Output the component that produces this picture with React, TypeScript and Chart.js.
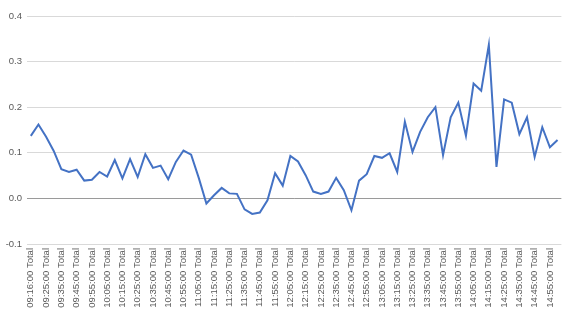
import React, { useEffect, useRef } from "react";
import { Chart, registerables } from "chart.js";

Chart.register(...registerables);

const categories: string[] = [
  "09:16:00 Total", "09:20:00 Total", "09:25:00 Total", "09:30:00 Total", "09:35:00 Total",
  "09:40:00 Total", "09:45:00 Total", "09:50:00 Total", "09:55:00 Total", "10:00:00 Total",
  "10:05:00 Total", "10:10:00 Total", "10:15:00 Total", "10:20:00 Total", "10:25:00 Total",
  "10:30:00 Total", "10:35:00 Total", "10:40:00 Total", "10:45:00 Total", "10:50:00 Total",
  "10:55:00 Total", "11:00:00 Total", "11:05:00 Total", "11:10:00 Total", "11:15:00 Total",
  "11:20:00 Total", "11:25:00 Total", "11:30:00 Total", "11:35:00 Total", "11:40:00 Total",
  "11:45:00 Total", "11:50:00 Total", "11:55:00 Total", "12:00:00 Total", "12:05:00 Total",
  "12:10:00 Total", "12:15:00 Total", "12:20:00 Total", "12:25:00 Total", "12:30:00 Total",
  "12:35:00 Total", "12:40:00 Total", "12:45:00 Total", "12:50:00 Total", "12:55:00 Total",
  "13:00:00 Total", "13:05:00 Total", "13:10:00 Total", "13:15:00 Total", "13:20:00 Total",
  "13:25:00 Total", "13:30:00 Total", "13:35:00 Total", "13:40:00 Total", "13:45:00 Total",
  "13:50:00 Total", "13:55:00 Total", "14:00:00 Total", "14:05:00 Total", "14:10:00 Total",
  "14:15:00 Total", "14:20:00 Total", "14:25:00 Total", "14:30:00 Total", "14:35:00 Total",
  "14:40:00 Total", "14:45:00 Total", "14:50:00 Total", "14:55:00 Total", "15:00:00 Total",
];

const values: number[] = [
  0.137, 0.162, 0.135, 0.104, 0.064, 0.058, 0.063, 0.039, 0.041, 0.058,
  0.048, 0.084, 0.044, 0.086, 0.047, 0.097, 0.067, 0.072, 0.042, 0.080,
  0.105, 0.096, 0.045, -0.011, 0.007, 0.023, 0.011, 0.010, -0.024, -0.034,
  -0.031, -0.004, 0.055, 0.028, 0.093, 0.081, 0.051, 0.015, 0.010, 0.015,
  0.045, 0.018, -0.026, 0.039, 0.053, 0.093, 0.089, 0.099, 0.058, 0.168,
  0.102, 0.146, 0.178, 0.200, 0.095, 0.178, 0.210, 0.137, 0.252, 0.236,
  0.337, 0.069, 0.217, 0.210, 0.141, 0.178, 0.091, 0.156, 0.112, 0.128,
];

const yMin = -0.1;
const yMax = 0.4;
const yStep = 0.1;

export default function App() {
  const canvasRef = useRef<HTMLCanvasElement | null>(null);

  useEffect(() => {
    document.body.style.margin = "0";
    const canvas = canvasRef.current;
    if (!canvas) return;
    const font = { family: "'Liberation Sans', Arial, sans-serif", size: 9.5 };
    const chart = new Chart(canvas, {
      type: "line",
      data: {
        labels: categories,
        datasets: [
          {
            data: values,
            borderColor: "#4472C4",
            borderWidth: 2,
            pointRadius: 0,
            tension: 0,
            fill: false,
          },
        ],
      },
      options: {
        animation: false,
        responsive: false,
        layout: { padding: { top: 16, right: 8, left: 0, bottom: 0 } },
        plugins: { legend: { display: false }, tooltip: { enabled: false } },
        scales: {
          x: {
            type: "category",
            offset: true,
            grid: { display: false, drawTicks: false },
            border: { display: false },
            ticks: {
              autoSkip: false,
              minRotation: 90,
              maxRotation: 90,
              padding: 4,
              color: "#595959",
              font,
              callback: (_v: any, i: number) => (i % 2 === 0 ? categories[i] : ""),
            },
            afterFit: (scale: any) => {
              scale.height = 78;
            },
          },
          y: {
            min: yMin,
            max: yMax,
            grid: {
              drawTicks: false,
              lineWidth: 1,
              color: (ctx: any) =>
                ctx.tick && Math.abs(ctx.tick.value) < 1e-9 ? "#9a9a9a" : "#d9d9d9",
            },
            border: { display: false },
            ticks: {
              stepSize: yStep,
              padding: 5,
              color: "#595959",
              font,
              callback: (v: any) => Number(v).toFixed(1),
            },
            afterFit: (scale: any) => {
              scale.width = 27;
            },
          },
        },
      },
    });
    return () => chart.destroy();
  }, []);

  return (
    <div style={{ position: "fixed", left: 0, top: 0, width: 573, height: 322, background: "#fff" }}>
      <canvas ref={canvasRef} width={573} height={322} style={{ display: "block" }} />
    </div>
  );
}
